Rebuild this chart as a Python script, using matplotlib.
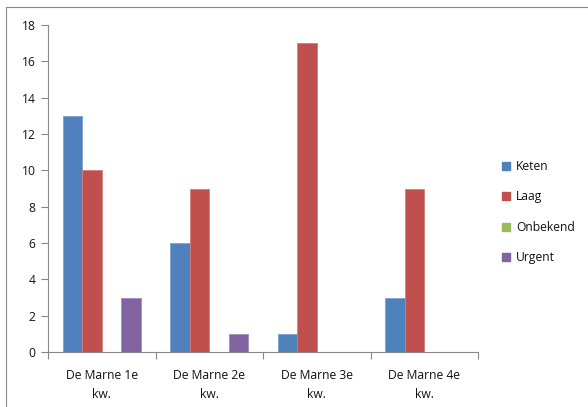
import matplotlib
matplotlib.use("Agg")
import matplotlib.pyplot as plt
import numpy as np
from matplotlib.lines import Line2D

categories = ["De Marne 1e\nkw.", "De Marne 2e\nkw.", "De Marne 3e\nkw.", "De Marne 4e\nkw."]
series_names = ["Keten", "Laag", "Onbekend", "Urgent"]
keten = [13, 6, 1, 3]
laag = [10, 9, 17, 9]
onbekend = [0, 0, 0, 0]
urgent = [3, 1, 0, 0]
colors = ["#4F81BD", "#C0504D", "#9BBB59", "#8064A2"]
edge_colors = ["#7BA0D0", "#D27C7A", "#B5CF85", "#A08CBE"]

plt.rcParams['font.family'] = ['Open Sans', 'DejaVu Sans']

fig = plt.figure(figsize=(5.88, 4.07), dpi=100)
ax = fig.add_axes([48/588, 1-352/407, (478-48)/588, (352-25)/407])

values = [keten, laag, onbekend, urgent]
n = len(series_names)
w = 1/(n+1.5)
x = np.arange(len(categories))
handles = []
for i, (name, vals) in enumerate(zip(series_names, values)):
    pos = x - 0.5 + 0.75*w + (i+0.5)*w
    ax.bar(pos, vals, width=w, color=colors[i], edgecolor=[edge_colors[i] if v > 0 else (0,0,0,0) for v in vals], linewidth=0.6, label=name)
    handles.append(Line2D([], [], marker='s', linestyle='none', markersize=6,
                          markerfacecolor=colors[i], markeredgecolor=colors[i], label=name))

ax.set_xlim(-0.5, len(categories)-0.5)
ax.set_ylim(0, 18)
ax.set_yticks(np.arange(0, 19, 2))
ax.set_xticks(x)
ax.set_xticklabels(categories, fontsize=8.7, color="#111111", linespacing=1.6)
ax.set_xticks(np.arange(-0.5, len(categories), 1), minor=True)
ax.tick_params(axis='x', which='major', length=0, pad=12)
ax.tick_params(axis='x', which='minor', length=5, color="#888888", width=0.8)
ax.tick_params(axis='y', length=5, color="#888888", width=0.8, labelsize=8.7, labelcolor="#111111", pad=4)
for s in ['top', 'right']:
    ax.spines[s].set_visible(False)
for s in ['left', 'bottom']:
    ax.spines[s].set_color("#888888")
    ax.spines[s].set_linewidth(0.8)

fig.legend(handles=handles, loc='upper left', bbox_to_anchor=(498/588, 1-155/407),
           frameon=False, fontsize=8.7, labelcolor="#111111", handlelength=0.6, handletextpad=0.5,
           labelspacing=1.45, borderaxespad=0)

# chart border (left and top)
fig.add_artist(Line2D([6/588, 6/588], [0, 1-6.5/407], transform=fig.transFigure, color="#888888", lw=0.8))
fig.add_artist(Line2D([6/588, 1], [1-6.5/407, 1-6.5/407], transform=fig.transFigure, color="#888888", lw=0.8))

fig.savefig("out.png", dpi=100)
